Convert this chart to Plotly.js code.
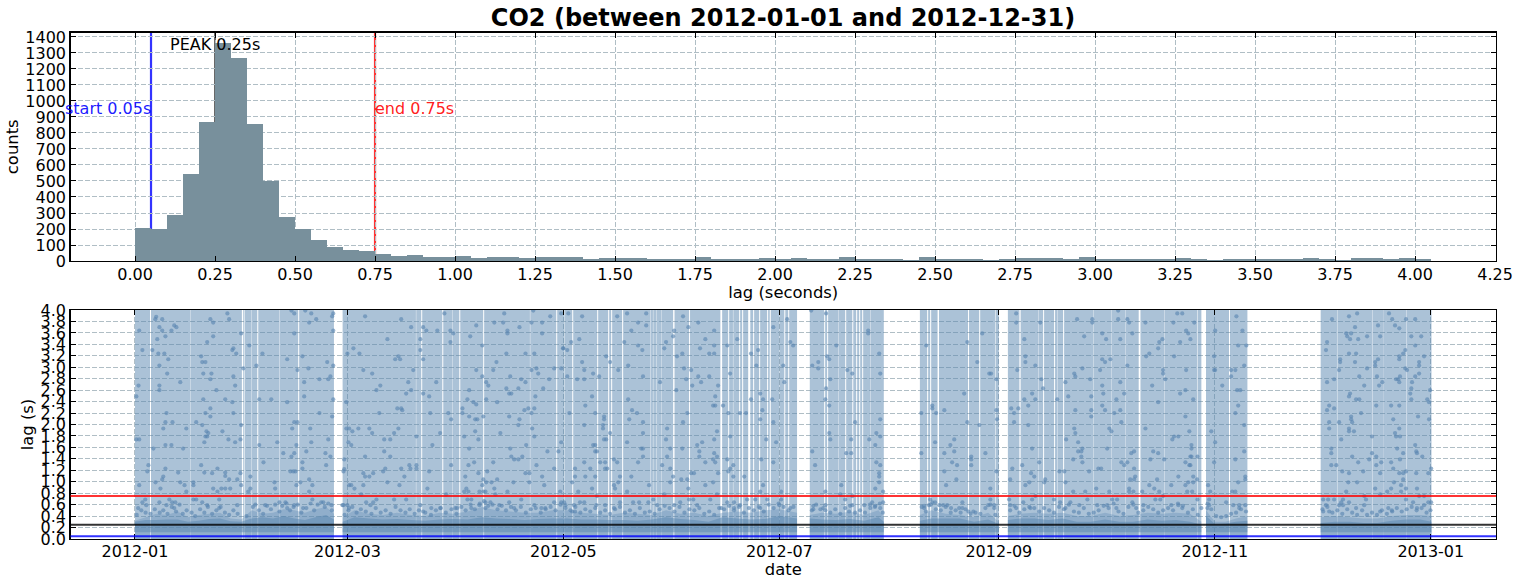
<!DOCTYPE html>
<html><head><meta charset="utf-8">
<script src="https://cdn.plot.ly/plotly-3.0.1.min.js"></script>
<style>html,body{margin:0;padding:0;background:#fff}#c{width:1520px;height:584px}</style>
</head><body><div id="c"></div><script>
const chartTitle='CO2 (between 2012-01-01 and 2012-12-31)';
const lagStart=0.05, lagPeak=0.25, lagEnd=0.75;
const binWidth=0.05;
const histCounts=[208,198,290,546,871,1365,1271,858,502,277,202,133,90,71,65,46,33,40,25,25,31,19,25,25,19,25,25,25,12,19,19,19,12,12,12,25,12,12,12,19,12,19,12,12,25,12,12,12,6,25,12,12,12,6,12,19,19,19,12,25,12,12,12,12,12,19,12,6,12,12,12,12,12,19,12,6,19,19,12,19,12];
const blockStart=[0,58.65,190.6,221.7,246.55,302.5,334.9];
const blockEnd=[56.2,187,211.5,244,301.2,314.2,366.2];
const gapDay=[4.24,15.6,30.2,30.85,32.95,34.54,40.75,46.1,79.35,80.85,86.8,89.6,91.6,98.35,111.55,118.98,121.2,123.5,130.55,133.66,134.5,137.6,145.5,146.3,147.3,148.6,152,156.5,165.35,167.55,168.9,170.65,171.5,173.2,174.6,176.3,178.55,179.3,181.9,183.4,184.5,194.66,195.5,198.6,200.6,202.6,203.7,204.55,205.4,207.65,223.75,224.6,226.7,235.3,238.45,242.95,249.8,255.1,256.5,259.6,260.45,262.15,270.6,275.7,279.7,283.5,290.7,300.1,309,339.55,349.4,352.5,359];
const gapWidth=[.28,.1,.38,.15,.1,.28,.1,.28,.1,.28,.28,.1,.28,.28,.1,.28,.1,.28,.28,.28,.28,.28,.1,.1,.1,.1,.4,.28,.5,.28,.1,.28,.28,.6,.28,.28,.28,.28,.1,.28,.28,.28,.28,.1,.28,.28,.28,.28,.28,.1,.28,.28,.4,.28,.28,.15,.35,.1,.28,.28,.1,.28,.1,.1,.1,.5,.1,.15,.28,.1,.1,.05,.1];
// dense low-lag mass, read per block: [days], [upper edge of mass], [upper edge of dark core]
const bandDays=[[0,3,6,9,12,15,18,21,24,27,30,33,36,39,42,45,48,51,54,56.2],[58.65,62,66,70,74,78,82,86,90,94,98,102,106,110,114,118,122,126,130,134,138,142,146,150,154,158,162,166,170,174,178,182,187],[190.6,194,198,202,206,210,211.5],[221.7,225,229,233,237,241,244],[246.55,250,254,258,262,266,270,274,278,282,286,290,294,298,301.2],[302.5,305,308,311,314.2],[334.9,339,343,347,351,355,359,363,366.2]];
const bandMassTop=[[.32,.38,.44,.42,.48,.38,.42,.44,.46,.36,.34,.5,.44,.46,.52,.5,.46,.52,.56,.44],[.38,.5,.44,.42,.46,.42,.4,.46,.44,.48,.56,.5,.48,.46,.46,.5,.5,.46,.44,.42,.46,.44,.42,.5,.44,.46,.4,.46,.48,.46,.5,.52,.46],[.42,.46,.44,.48,.42,.5,.38],[.42,.5,.44,.42,.38,.46,.3],[.4,.44,.46,.44,.46,.4,.4,.46,.4,.42,.46,.44,.46,.44,.3],[.5,.3,.3,.36,.4],[.38,.4,.38,.36,.36,.4,.42,.42,.4]];
const bandCoreTop=[[.3,.33,.33,.34,.34,.3,.32,.35,.36,.31,.3,.36,.38,.36,.4,.36,.33,.38,.42,.34],[.3,.38,.36,.34,.35,.33,.32,.34,.35,.34,.38,.36,.35,.33,.35,.36,.36,.34,.34,.33,.33,.32,.34,.38,.35,.33,.3,.38,.36,.34,.35,.4,.36],[.36,.34,.33,.35,.32,.38,.3],[.32,.36,.36,.36,.3,.34,.26],[.33,.36,.36,.33,.36,.3,.3,.34,.3,.3,.34,.32,.33,.3,.25],[.4,.26,.27,.3,.32],[.28,.3,.3,.28,.28,.32,.34,.34,.3]];
const pointsJanFeb=[[6,3.88],[5.75,3.84],[7.7,3.84],[6.9,3.7],[7.7,3.64],[1.2,3.64],[6.3,3.49],[8.6,3.54],[11.1,3.73],[11.7,3.7],[10.3,3.64],[21.3,3.84],[22.1,3.78],[26.1,3.94],[26.6,3.84],[22.1,3.54],[20.4,3.44],[30,3.59],[32.3,3.38],[27.8,3.33],[27.5,3.3],[28.6,3.24],[2.1,3.3],[4.9,3.3],[6.6,3.24],[8.3,3.24],[9.4,3.14],[18.7,3.19],[19,3.09],[19.9,3.09],[6.9,3.03],[9.1,2.89],[19.3,2.89],[21.6,2.89],[21.3,2.79],[27.8,2.84],[30.6,2.98],[34.3,3.03],[36,3.24],[1,2.68],[6.9,2.68],[6.9,2.6],[12.8,2.74],[.4,2.49],[23,2.6],[28.3,2.68],[19.3,2.44],[25.5,2.44],[27.5,2.39],[21.3,2.28],[19.9,2.2],[21.3,2.14],[27.8,2.2],[8.9,2.2],[8.6,2.04],[10.6,2.04],[8,1.93],[14.5,1.93],[17.3,2.04],[19,1.99],[20.2,1.88],[20.7,1.85],[20.4,1.79],[19.9,1.79],[24.7,1.88],[30,1.99],[26.4,1.74],[29.8,1.74],[19.6,1.69],[28.3,1.69],[.4,1.74],[1.2,1.74],[8.6,1.64],[10.3,1.64],[5.2,1.58],[13.6,1.58],[35.1,1.64],[40.2,1.69],[3.8,1.29],[18.7,1.29],[8.6,1.23],[3.5,1.18],[12.2,1.16],[19.6,1.16],[21.8,1.15],[23.3,1.23],[25.5,1.16],[25.5,1.1],[26.6,1.04],[28.9,1.04],[29.8,1.15],[32.6,1.09],[8,1.09],[7.7,1.04],[5.8,.99],[1.2,.94],[7.2,.88],[12.8,.99],[14,.94],[16.5,.99],[16.5,.94],[14.5,.83],[22.1,.88],[24.4,.88],[25.5,.88],[23.3,.83],[26.9,.88],[30,.94],[32,.83],[32.6,.88],[44.2,3.99],[45,3.94],[48.1,3.99],[49.8,3.94],[56,3.94],[55.7,3.89],[51.2,3.84],[49.2,3.78],[56,3.64],[45,3.59],[43,3.14],[47.3,3.19],[49,2.98],[45.9,2.95],[54.3,3.09],[56,3.03],[55.2,2.84],[54.6,2.79],[52.1,2.79],[47.8,2.74],[47.8,2.49],[35.1,2.44],[38.5,2.44],[43,2.39],[56,2.44],[52.1,2.2],[55.7,2.14],[59.7,2.39],[45,2.04],[45.9,2.04],[44.4,1.93],[49.5,1.93],[60.5,1.93],[61.4,1.88],[63.1,1.93],[60,3.24],[61.7,3.33],[63.4,3.24],[45.6,1.64],[49.8,1.69],[54.6,1.74],[60.3,1.69],[61.1,1.64],[41.9,1.5],[45,1.5],[44.2,1.44],[48.4,1.53],[53.8,1.5],[55.2,1.44],[36.3,1.34],[47.3,1.34],[59.1,1.39],[54,1.29],[47.3,1.23],[43.9,1.18],[44.7,1.18],[45.3,1.18],[59.1,1.22],[58.9,1.18],[49.2,1.04],[46.7,.99],[39.4,.99],[45.6,.94],[39.6,.88],[49.2,.83],[50.1,.94],[60.5,.94],[61.1,.94],[62,.88]];
const pointsMarApr=[[65,3.89],[75.2,3.84],[78,3.7],[81.4,3.7],[82.3,3.64],[85.4,3.64],[87.4,3.94],[89.1,3.64],[89.9,3.59],[89.1,3.44],[96.4,3.73],[94.7,3.54],[101.5,3.78],[104,3.78],[104.3,3.94],[105.2,3.64],[105.2,3.59],[108.6,3.7],[112,3.78],[112.5,3.99],[115,3.78],[115,3.59],[117.3,3.89],[120.4,3.94],[71.3,3.49],[80.6,3.49],[98.1,3.38],[121,3.33],[122.1,3.3],[80.6,3.3],[81.4,3.14],[73.5,3.14],[74.4,3.19],[74.9,3.14],[104.9,3.24],[110.3,3.24],[112.8,3.24],[102.1,3.09],[64.5,2.95],[67,2.89],[78.6,2.95],[96.4,2.95],[101.2,2.95],[112,2.95],[113.4,2.98],[113.9,2.89],[118.4,2.98],[120.4,2.98],[98.1,2.84],[106,2.84],[122.1,2.84],[109.1,2.79],[117,2.79],[77.2,2.74],[85.1,2.74],[99.2,2.74],[99.8,2.68],[69.3,2.68],[68.2,2.6],[78,2.6],[76.6,2.54],[81.4,2.54],[83.1,2.49],[94.4,2.6],[104.9,2.63],[108.3,2.63],[105.7,2.54],[106.3,2.54],[110.3,2.74],[115.3,2.63],[113.1,2.49],[93.9,2.44],[95.6,2.39],[96.4,2.35],[99.2,2.44],[102.3,2.39],[74.1,2.28],[75.2,2.28],[75.5,2.25],[69,2.2],[83.4,2.2],[88.5,2.2],[92.5,2.28],[92.5,2.2],[110,2.25],[111.1,2.28],[112.8,2.28],[112,2.2],[122.7,2.2],[105.7,2.14],[94.4,2.14],[89.3,2.09],[96.1,2.09],[96.7,2.09],[98.4,2.14],[108.6,2.09],[108.3,1.99],[59.7,1.93],[66.2,1.93],[67,1.85],[74.4,1.93],[73.2,1.85],[70.4,1.74],[72.1,1.74],[79.5,1.79],[86.2,1.85],[93,1.79],[96.1,1.88],[97,1.74],[103.2,1.85],[112.2,1.93],[112.8,1.79],[120.4,1.69],[84,1.64],[110.5,1.64],[70.4,1.53],[72.1,1.44],[65,1.44],[94.4,1.58],[106,1.58],[116.5,1.53],[119.6,1.53],[106.3,1.44],[107.1,1.39],[108.3,1.39],[109.4,1.44],[95.8,1.34],[101.2,1.34],[89.3,1.29],[94.2,1.29],[77.5,1.29],[79.5,1.29],[79.5,1.23],[77.8,1.23],[70.7,1.23],[75.2,1.23],[113.4,1.29],[118.4,1.23],[64.5,1.15],[67.3,1.15],[70.1,1.18],[83.1,1.18],[99.5,1.18],[97,1.15],[110.3,1.15],[111.4,1.15],[65,1.09],[66.2,1.09],[76.1,1.09],[93.3,1.09],[115,1.09],[98.4,1.04],[102.3,1.04],[71.3,.99],[99.2,.99],[100.7,.99],[106.9,.99],[111.4,.99],[64.5,.94],[74.7,.94],[115.6,.94],[82.6,.88],[93.6,.88],[98.1,.94],[101.5,.88],[93,.83],[94.2,.83],[97.3,.83],[98.4,.83],[99,.83],[105.2,.83],[120.1,.83]];
const pointsMayJun=[[122.4,3.94],[126.3,3.89],[136.2,3.89],[139,3.94],[144.4,3.94],[142.1,3.78],[144.4,3.73],[140.2,3.64],[154.8,3.89],[159.1,3.78],[156.3,3.7],[152.3,3.64],[152,3.54],[163.6,3.64],[161.1,3.49],[170.1,3.49],[180.3,3.7],[184.2,3.84],[125.5,3.49],[123.2,3.44],[138.2,3.44],[150,3.44],[149.5,3.33],[185.1,3.44],[185.9,3.38],[120.9,3.33],[142.1,3.38],[143.3,3.3],[159.6,3.33],[163.6,3.38],[167.3,3.38],[176,3.3],[154.6,3.24],[153.1,3.19],[162.2,3.24],[163.6,3.24],[174,3.24],[133.1,3.19],[134.2,3.09],[126.3,3.09],[139.3,3.03],[136.5,2.95],[126.9,2.95],[129.4,2.89],[155.1,2.98],[157.1,2.95],[175.5,3.03],[183.1,3.03],[168.1,2.89],[131.1,2.84],[143.5,2.84],[159.1,2.84],[162.2,2.84],[124.9,2.79],[126.9,2.79],[155.7,2.79],[148.3,2.74],[159.9,2.74],[157.4,2.68],[164.7,2.68],[183.4,2.74],[152.9,2.6],[176.6,2.54],[129.1,2.49],[163.9,2.49],[174,2.44],[139.3,2.44],[177.4,2.44],[180,2.44],[127.2,2.33],[163.3,2.33],[163.9,2.33],[166.1,2.33],[140.4,2.25],[177.2,2.25],[130,2.2],[141.8,2.2],[156,2.2],[167.6,2.2],[170.9,2.2],[172.6,2.2],[132.5,2.14],[132.5,2.09],[139.6,2.09],[176.6,2.09],[126.9,1.99],[132.2,1.99],[132.2,1.93],[143.5,2.04],[154.8,2.04],[180.3,2.04],[150.3,1.93],[164.4,1.88],[134.2,1.85],[143.5,1.85],[168.1,1.79],[132.5,1.74],[133.1,1.74],[150,1.74],[163.6,1.74],[178.3,1.74],[139,1.69],[160.2,1.69],[181.1,1.69],[129.4,1.64],[130,1.64],[158.8,1.64],[143,1.58],[143.5,1.58],[151.2,1.58],[154.6,1.58],[130,1.53],[130.5,1.53],[159.4,1.53],[163.6,1.5],[143.5,1.44],[150.3,1.44],[159.4,1.44],[164.4,1.44],[135.3,1.39],[163.3,1.39],[167.3,1.39],[176.9,1.39],[126.9,1.34],[131.4,1.34],[132.8,1.34],[142.1,1.34],[136.2,1.34],[161.1,1.34],[163.9,1.34],[180.3,1.34],[148.9,1.29],[169,1.29],[124.3,1.23],[128.6,1.23],[132.8,1.23],[133.4,1.23],[151.2,1.23],[168.1,1.23],[157.1,1.15],[157.9,1.15],[164.7,1.15],[167.6,1.18],[124.3,1.09],[127.2,1.09],[130,1.09],[137,1.09],[140.2,1.09],[152,1.09],[169,1.09],[172.1,1.09],[154.3,1.04],[156,1.04],[123.5,.99],[136.5,.99],[151.2,.99],[163.3,.99],[135.3,.94],[145.2,.94],[161.1,.94],[177.4,.94],[129.1,.88],[135.6,.88],[156.3,.88],[176.6,.83],[125.2,.83],[139,.83],[182.5,.83]];
const pointsJulAug=[[195.2,3.94],[191,3.99],[207.1,3.64],[207.1,3.59],[198.1,3.38],[223.5,3.38],[235.1,3.44],[239.3,3.59],[210.2,3.24],[195.5,3.19],[196.1,3.14],[193,3.09],[191.3,3.03],[193,2.98],[201.2,2.95],[202.6,2.89],[210.5,2.89],[237.9,3.09],[241.3,2.89],[241.8,2.89],[243.3,2.79],[196.4,2.79],[195.2,2.63],[195,2.44],[196.1,2.33],[234.2,2.54],[225.2,2.33],[225.2,2.28],[226.3,2.2],[228.6,2.25],[222.1,2.2],[243.3,2.25],[210.5,2.09],[243.5,2.09],[203.4,2.04],[235.1,2.04],[238.5,1.99],[196.1,1.85],[209.4,1.85],[210.5,1.79],[196.4,1.74],[202.3,1.74],[207.4,1.74],[231.4,1.74],[226,1.69],[230.3,1.64],[209.1,1.64],[191.3,1.53],[200.9,1.5],[202.3,1.5],[222.1,1.5],[228.6,1.5],[231.4,1.53],[240.2,1.5],[236.2,1.44],[236.2,1.39],[209.4,1.34],[230.8,1.34],[192.1,1.29],[210.5,1.29],[232.2,1.29],[236.2,1.29],[228.6,1.18],[243.3,1.18],[210.2,1.15],[210.2,1.09],[232,1.04],[199.5,.94],[210.2,.99],[229.1,.94],[209.1,.88],[241.6,.88],[195,.83],[211.3,.83],[199.2,.78],[200.6,.69],[202.6,.75],[206,.59],[208.2,.64],[211.3,.64],[224.6,.69],[225.2,.64],[226,.64],[233.7,.64],[241.6,.69],[232.8,.54],[233.7,.54],[241,.59]];
const pointsSepNov=[[248.9,3.94],[248.9,3.78],[255.7,3.78],[266.1,3.84],[270.4,3.84],[270.4,3.78],[277.7,3.99],[277.7,3.84],[280.3,3.84],[280.8,3.78],[285.4,3.78],[293.3,3.78],[294.4,3.94],[295.8,3.94],[299.2,3.78],[268.1,3.54],[273.2,3.59],[274.3,3.49],[278.3,3.49],[281.7,3.59],[251.2,3.49],[296.9,3.64],[297.5,3.59],[298.1,3.49],[295.2,3.44],[290.2,3.49],[289.3,3.44],[289,3.33],[286.5,3.24],[285.6,3.19],[293.5,3.19],[251.5,3.19],[251.5,3.09],[254.3,3.03],[267.6,2.98],[273.2,3.14],[274,3.09],[275.5,3.14],[272.6,2.95],[280.3,3.03],[305.1,3.64],[311.1,3.89],[312.8,3.64],[311.6,3.38],[313.9,3.38],[304.8,3.19],[313.3,3.03],[304.8,2.95],[305.1,2.95],[309.6,2.95],[310.8,2.95],[309.6,2.84],[249.2,2.95],[265.3,2.89],[265.6,2.84],[290.4,2.95],[290.4,2.89],[291,2.79],[296.9,2.95],[256,2.79],[269.8,2.79],[262.8,2.74],[278.3,2.74],[256.5,2.63],[273.2,2.68],[287.3,2.68],[307.1,2.68],[296.7,2.6],[295.2,2.54],[253.4,2.54],[273.5,2.54],[279.4,2.54],[311.3,2.6],[312.2,2.6],[263.6,2.49],[270.1,2.49],[251.2,2.44],[254.3,2.44],[260.5,2.44],[277.2,2.44],[298.9,2.44],[252.3,2.33],[273.2,2.33],[289,2.39],[311.6,2.33],[247.5,2.28],[249.5,2.28],[265.6,2.25],[270.1,2.25],[274,2.25],[278.3,2.25],[248.3,2.2],[276.6,2.2],[270.1,2.14],[296.7,2.14],[310.8,2.2],[248.3,2.04],[278.6,2.04],[252.3,1.99],[313.3,1.99],[265.3,1.93],[275.2,1.93],[275.8,1.88],[285.4,1.93],[265.6,1.85],[297.8,1.88],[304,1.88],[263,1.74],[293,1.74],[293.5,1.79],[294.7,1.79],[266.4,1.69],[305.1,1.69],[253.4,1.58],[267.6,1.58],[274.6,1.58],[298.4,1.64],[298.4,1.58],[266.4,1.53],[267.3,1.53],[282.2,1.53],[281.4,1.5],[287.6,1.53],[289,1.5],[313.3,1.53],[267.3,1.44],[298.1,1.44],[298.4,1.44],[300.1,1.44],[265,1.39],[267.6,1.34],[278.6,1.34],[280.3,1.34],[286.8,1.39],[290.7,1.39],[296.7,1.34],[304.8,1.34],[310.8,1.39],[255.4,1.34],[250.6,1.29],[279.4,1.29],[297.8,1.29],[298.1,1.29],[247.8,1.23],[272.1,1.23],[272.9,1.23],[282.2,1.23],[261.1,1.18],[262.5,1.18],[269.5,1.18],[253.1,1.15],[254,1.09],[282.5,1.09],[294.7,1.09],[298.9,1.09],[313.6,1.09],[247.2,1.04],[257.1,1.04],[281.1,1.04],[282.2,1.04],[288.7,1.04],[300,1.04],[313.6,1.04],[252.6,.99],[256.8,.99],[262.8,.99],[297.5,.99],[298.9,.99],[311.6,.99],[251.5,.94],[286.5,.94],[292.7,.94],[296.7,.94],[303.1,.94],[271.5,.88],[287.9,.88],[280.8,.88],[265,.83],[268.4,.83],[275.2,.83],[280.8,.83],[282,.83],[284.5,.83],[289.3,.83],[297.2,.83],[298.6,.83],[303.7,.83],[309.9,.83],[310.8,.83]];
const pointsDec=[[345.2,3.94],[354.2,3.94],[342.9,3.89],[338.1,3.84],[355.1,3.84],[359,3.84],[361.6,3.84],[351.1,3.73],[355.9,3.73],[357.1,3.68],[344.6,3.7],[342.1,3.59],[343.5,3.59],[342.4,3.54],[343.2,3.49],[345.5,3.49],[348,3.54],[351.7,3.54],[360.5,3.54],[363.3,3.54],[336.7,3.44],[336.4,3.3],[361.6,3.38],[358.8,3.3],[358.2,3.24],[342.9,3.24],[344.9,3.24],[357.1,3.19],[357.1,3.14],[351.1,3.14],[364.1,3.19],[340.4,3.14],[340.4,3.09],[344.6,3.09],[350.3,3.09],[350.3,3.03],[362.7,3.09],[362.7,3.03],[340.1,2.95],[348,2.98],[358.8,2.98],[359.3,2.95],[362.7,2.89],[345.8,2.84],[350.8,2.84],[357.3,2.84],[361.6,2.84],[338.7,2.79],[356.2,2.79],[356.8,2.79],[336.7,2.74],[352.3,2.74],[357.1,2.74],[360.7,2.74],[347.2,2.68],[351.4,2.68],[360.5,2.63],[360.2,2.54],[365.8,2.6],[343.2,2.54],[342.9,2.49],[344.9,2.44],[345.8,2.44],[360.5,2.44],[365,2.44],[365.5,2.39],[337.3,2.33],[350.6,2.33],[354.8,2.33],[357.1,2.33],[338.7,2.28],[336.7,2.25],[346.3,2.2],[343.5,2.14],[362.4,2.14],[343.5,2.09],[355.4,2.09],[365.5,2.09],[337.3,2.04],[340.1,2.04],[343.8,2.04],[337.3,1.93],[342.9,1.93],[357.1,1.93],[342.9,1.88],[344.3,1.88],[355.9,1.85],[356.2,1.79],[357.3,1.79],[349.4,1.79],[340.7,1.74],[361.6,1.64],[337.9,1.58],[356.5,1.58],[361.9,1.53],[362.1,1.5],[337.9,1.5],[349.4,1.5],[358.2,1.5],[343.8,1.44],[350.6,1.44],[363.6,1.44],[348.6,1.39],[357.3,1.39],[345.5,1.34],[352,1.34],[354.8,1.34],[337.9,1.29],[339.3,1.29],[350.6,1.29],[355.4,1.23],[341,1.18],[346.9,1.18],[366.1,1.23],[342.9,1.15],[351.7,1.15],[357.1,1.15],[358.2,1.15],[359,1.18],[361.9,1.15],[365.3,1.15],[358.2,1.04],[342.7,.99],[345.2,.99],[355.6,.99],[350.3,.88],[354.8,.88],[357.6,.94],[359,.88],[362.1,.88],[342.1,.83],[353.7,.83],[351.7,.78],[357.6,.83]];
const pointsLowFringe=[[2.9,.69],[2.1,.64],[6.9,.64],[9.7,.69],[10.5,.64],[11.4,.64],[3.2,.59],[.9,.54],[8.9,.59],[11.1,.54],[16.5,.69],[17.3,.69],[19,.64],[20.4,.59],[23.8,.69],[23.8,.54],[28.9,.59],[36.8,.59],[40.8,.64],[42.5,.64],[43,.54],[45,.59],[47.5,.54],[50.1,.69],[53.2,.64],[55.5,.59],[58.9,.59],[60.5,.54],[58.6,.59],[60,.59],[63.9,.78],[65.3,.64],[66.5,.59],[67.3,.64],[68.2,.69],[73.2,.69],[76.6,.69],[80.6,.59],[81.4,.48],[83.7,.54],[86.2,.54],[87.9,.78],[90.5,.54],[91,.54],[93.9,.69],[95,.69],[95,.54],[97.3,.59],[99,.64],[99,.54],[100.4,.64],[101.8,.78],[102.9,.59],[105.7,.64],[107.1,.54],[109.1,.69],[112.8,.59],[114.8,.54],[115.9,.54],[118.4,.64],[120.4,.64],[121.6,.59],[121.2,.64],[124,.59],[125.7,.64],[126.9,.64],[123.5,.48],[124.3,.48],[130.5,.75],[130.3,.59],[132.8,.59],[137,.64],[135.3,.54],[140.7,.64],[142.4,.64],[145,.64],[146.4,.69],[147.5,.59],[149.5,.78],[152.3,.59],[154,.64],[156.5,.69],[157.7,.69],[158.8,.59],[162.5,.69],[164.4,.78],[165.6,.54],[167.3,.64],[169.2,.64],[169.2,.54],[170.9,.59],[172.9,.69],[175.2,.69],[176.6,.54],[178.6,.69],[182,.59],[182.5,.69],[185.1,.54],[191.6,.58],[191.6,.52],[194.4,.54],[195,.59],[201.7,.48],[202.6,.59],[207.7,.54],[209.1,.58],[210.5,.54],[222.9,.58],[222.9,.54],[224.3,.59],[227.2,.59],[228.3,.59],[229.4,.59],[230.5,.54],[235.4,.48],[236.8,.48],[242.7,.59],[242.7,.54],[246.9,.69],[247.2,.59],[248.9,.54],[250.9,.64],[253.4,.69],[254.3,.75],[252.9,.54],[259.6,.69],[261.3,.64],[262.8,.54],[264.2,.64],[266.7,.59],[269,.69],[271.8,.59],[274.6,.59],[276,.69],[277.4,.69],[277.2,.54],[281.7,.64],[282.8,.54],[284.8,.59],[288.2,.69],[289.6,.69],[290.4,.75],[292.7,.59],[294.7,.59],[295.8,.54],[300.1,.69],[301.2,.54],[303.4,.69],[303.4,.59],[302.9,.54],[308.2,.64],[310.2,.59],[311.9,.59],[313.6,.59],[311.9,.54],[335.6,.69],[337,.69],[338.7,.69],[341.2,.69],[340.7,.64],[342.9,.64],[340.1,.59],[341.2,.59],[347.2,.75],[347.7,.69],[347.2,.59],[344.9,.54],[336.4,.59],[335.6,.48],[337.3,.48],[351.7,.48],[354,.54],[355.1,.48],[359,.69],[361,.64],[362.7,.75],[364.1,.75],[362.1,.54],[365.3,.64],[366.1,.64],[364.1,.59]];
const pointsMassEdge=[[.5,.42],[1.8,.5],[3,.46],[4.4,.44],[5.6,.52],[7,.46],[8,.5],[9.2,.44],[10.4,.56],[11.6,.48],[12.6,.6],[13.5,.44],[14.6,.5],[16,.46],[17,.4],[18.4,.52],[19.6,.46],[20.6,.56],[21.8,.44],[23,.5],[24.2,.56],[25.4,.46],[26.6,.42],[27.8,.5],[29,.44],[31.5,.4],[33.3,.56],[34,.6],[35,.5],[36.2,.44],[37.3,.58],[38.4,.52],[39.6,.6],[40.8,.48],[41.6,.58],[42.8,.62],[43.8,.5],[44.8,.56],[46,.6],[47,.46],[48.4,.54],[49.6,.62],[50.6,.5],[51.6,.6],[52.6,.64],[53.6,.56],[54.6,.62],[55.6,.5],[59.2,.42],[60.3,.5],[61.4,.56],[62.6,.46],[63.8,.52],[65.2,.48],[66.8,.44],[68,.54],[69.4,.46],[70.8,.5],[72.2,.44],[73.6,.56],[75,.5],[76.4,.46],[77.6,.52],[79,.44],[80.2,.5],[82,.46],[83.6,.42],[85,.5],[86.4,.54],[87.8,.46],[89.4,.52],[90.8,.44],[92.2,.56],[93.4,.5],[94.8,.6],[96,.52],[97.4,.62],[98.6,.66],[99.8,.58],[101,.6],[102.4,.52],[103.6,.58],[104.8,.5],[106.2,.56],[107.6,.5],[109,.56],[110.4,.46],[111.8,.52],[113.2,.54],[114.6,.46],[116,.52],[117.4,.56],[118.8,.5],[120.2,.6],[121.6,.54],[123,.5],[124.4,.56],[125.8,.46],[127.2,.52],[128.6,.48],[130,.54],[131.4,.46],[132.8,.5],[134.2,.44],[135.6,.52],[137,.56],[138.4,.46],[139.8,.5],[141.2,.44],[142.6,.54],[144,.46],[145.4,.48],[146.8,.44],[148.2,.52],[149.6,.58],[151,.54],[152.4,.48],[153.8,.56],[155.2,.46],[156.6,.52],[158,.5],[159.4,.54],[160.8,.44],[162.2,.48],[163.6,.42],[165,.54],[166.4,.52],[167.8,.58],[169.2,.5],[170.6,.56],[172,.46],[173.4,.54],[174.8,.5],[176.2,.56],[177.6,.48],[179,.6],[180.4,.54],[181.8,.62],[183.2,.56],[184.6,.5],[186,.56],[191.2,.5],[192.4,.6],[193.6,.52],[195,.5],[196.4,.46],[197.8,.52],[199.2,.44],[200.6,.54],[202,.58],[203.4,.46],[204.8,.5],[206.2,.46],[207.6,.6],[209,.56],[210.4,.62],[211.2,.46],[222.2,.56],[223.4,.48],[224.8,.6],[226.2,.52],[227.6,.5],[229,.56],[230.4,.46],[231.8,.5],[233.2,.46],[234.6,.52],[236,.44],[237.4,.46],[238.8,.44],[240.2,.54],[241.6,.6],[243,.42],[247.2,.5],[248.4,.58],[249.8,.46],[251.2,.52],[252.6,.56],[254,.54],[255.4,.48],[256.8,.54],[258.2,.5],[259.6,.46],[261,.56],[262.4,.52],[263.8,.6],[265.2,.48],[266.6,.46],[268,.54],[269.4,.44],[270.8,.46],[272.2,.5],[273.6,.58],[275,.54],[276.4,.62],[277.8,.48],[279.2,.44],[280.6,.56],[282,.6],[283.4,.46],[284.8,.5],[286.2,.56],[287.6,.52],[289,.46],[290.4,.5],[291.8,.54],[293.2,.5],[294.6,.62],[296,.58],[297.4,.46],[298.8,.52],[300.2,.42],[303,.62],[304,.52],[305.4,.4],[306.8,.38],[308.2,.4],[309.6,.44],[311,.46],[312.4,.52],[313.8,.48],[335.4,.52],[336.8,.56],[338.2,.46],[339.6,.5],[341,.44],[342.4,.52],[343.8,.46],[345.2,.42],[346.6,.5],[348,.42],[349.4,.46],[350.8,.42],[352.2,.5],[353.6,.44],[355,.5],[356.4,.54],[357.8,.48],[359.2,.52],[360.6,.56],[362,.5],[363.4,.54],[364.8,.46],[365.9,.5]];
const coreFloor=0.12, lagAxisTop=4;

const FONT='"DejaVu Sans",sans-serif';
const iso=d=>new Date(Date.UTC(2012,0,1)+d*864e5).toISOString().slice(0,19).replace('T',' ');
const binLeft=histCounts.map((_,i)=>+(i*binWidth).toFixed(2));

const covX=[],covY=[];
blockStart.forEach((s,b)=>{
  const e=blockEnd[b];let a=s;
  gapDay.forEach((g,i)=>{if(g>s&&g<e){covX.push(iso(a),iso(a),iso(g),iso(g),null);covY.push(0,lagAxisTop,lagAxisTop,0,null);a=g+gapWidth[i];}});
  covX.push(iso(a),iso(a),iso(e),iso(e),null);covY.push(0,lagAxisTop,lagAxisTop,0,null);
});
function bandPoly(tops,floor){
  const X=[],Y=[];
  bandDays.forEach((ds,b)=>{
    ds.forEach((d,i)=>{X.push(iso(d));Y.push(tops[b][i]);});
    X.push(iso(ds[ds.length-1]),iso(ds[0]),null);Y.push(floor,floor,null);
  });
  return {X,Y};
}
const mass=bandPoly(bandMassTop,0), core=bandPoly(bandCoreTop,coreFloor);
const allPts=[].concat(pointsJanFeb,pointsMarApr,pointsMayJun,pointsJulAug,pointsSepNov,pointsDec,pointsLowFringe,pointsMassEdge);

const traces=[
 {type:'bar',x:binLeft,y:histCounts,width:binWidth,offset:0,marker:{color:'#78909c',line:{width:0}},xaxis:'x',yaxis:'y',hoverinfo:'skip'},
 {type:'scatter',mode:'none',x:covX,y:covY,fill:'toself',fillcolor:'rgba(88,133,176,0.5)',xaxis:'x2',yaxis:'y2',hoverinfo:'skip'},
 {type:'scatter',mode:'none',x:mass.X,y:mass.Y,fill:'toself',fillcolor:'rgba(88,133,176,0.32)',xaxis:'x2',yaxis:'y2',hoverinfo:'skip'},
 {type:'scatter',mode:'none',x:core.X,y:core.Y,fill:'toself',fillcolor:'rgba(88,133,176,0.5)',xaxis:'x2',yaxis:'y2',hoverinfo:'skip'},
 {type:'scatter',mode:'markers',x:allPts.map(p=>iso(p[0])),y:allPts.map(p=>p[1]),marker:{size:4.2,color:'rgba(88,133,176,0.62)',line:{width:0}},xaxis:'x2',yaxis:'y2',hoverinfo:'skip'}
];
const H=584,W=1520;
const TF=16;
const axisBase={showline:true,mirror:'allticks',linecolor:'#000',linewidth:1.3,ticks:'inside',ticklen:5,tickwidth:1,tickcolor:'#000',
  showgrid:true,gridcolor:'#b0bec5',gridwidth:1,griddash:'5px,2px',zeroline:false,tickfont:{family:FONT,size:TF,color:'#000'}};
const ttl=(t,s)=>({text:t,font:{family:FONT,size:16.4,color:'#000'},standoff:s});
const vline=(x,c,w)=>({type:'line',layer:'below',xref:'x',yref:'y domain',x0:x,x1:x,y0:0,y1:1,line:{color:c,width:w}});
const hline=(y,c)=>({type:'line',layer:'above',xref:'x2 domain',yref:'y2',x0:0,x1:1,y0:y,y1:y,line:{color:c,width:2}});
const note=(x,y,t,c,a)=>({xref:'x',yref:'y',x,y,text:t,showarrow:false,xanchor:a,yanchor:'middle',borderpad:0,borderwidth:0,font:{family:FONT,size:TF,color:c}});
const layout={width:W,height:H,margin:{l:0,r:0,t:0,b:0},paper_bgcolor:'#fff',plot_bgcolor:'#fff',showlegend:false,bargap:0,
 title:{text:chartTitle,font:{family:FONT,size:24,weight:700,color:'#000'},x:783/W,xanchor:'center',y:1-18/H,yanchor:'middle'},
 xaxis:Object.assign({},axisBase,{domain:[70.5/W,1496/W],range:[-0.2016,4.253],tick0:0,dtick:0.25,tickformat:'.2f',anchor:'y',ticklabelstandoff:-2,title:ttl('lag (seconds)',2)}),
 yaxis:Object.assign({},axisBase,{domain:[(H-261)/H,(H-32.5)/H],range:[0,1428],tick0:0,dtick:100,anchor:'x',title:ttl('counts',2)}),
 xaxis2:Object.assign({},axisBase,{type:'date',domain:[70.5/W,1496/W],range:['2011-12-13 19:00','2013-01-19 10:00'],tick0:'2012-01-01',dtick:'M2',tickformat:'%Y-%m',anchor:'y2',ticklabelstandoff:-3,title:ttl('date',2)}),
 yaxis2:Object.assign({},axisBase,{domain:[(H-539)/H,(H-310)/H],range:[0,lagAxisTop],tick0:0,dtick:0.2,tickformat:'.1f',anchor:'x2',title:ttl('lag (s)',2)}),
 shapes:[vline(lagStart,'rgba(0,0,255,0.8)',2.2),vline(lagPeak,'rgba(0,0,0,0.8)',1.5),vline(lagEnd,'rgba(255,0,0,0.8)',2.2),
  hline(lagStart,'rgba(0,0,255,0.8)'),hline(lagPeak,'rgba(0,0,0,0.8)'),hline(lagEnd,'rgba(255,0,0,0.8)')],
 annotations:[note(lagStart,956,'start 0.05s','rgba(0,0,255,0.9)','right'),note(lagPeak,1356,'PEAK 0.25s','#000','center'),note(lagEnd,956,'end 0.75s','rgba(255,0,0,0.9)','left')]
};
Plotly.newPlot('c',traces,layout,{displayModeBar:false,staticPlot:true});
</script></body></html>
